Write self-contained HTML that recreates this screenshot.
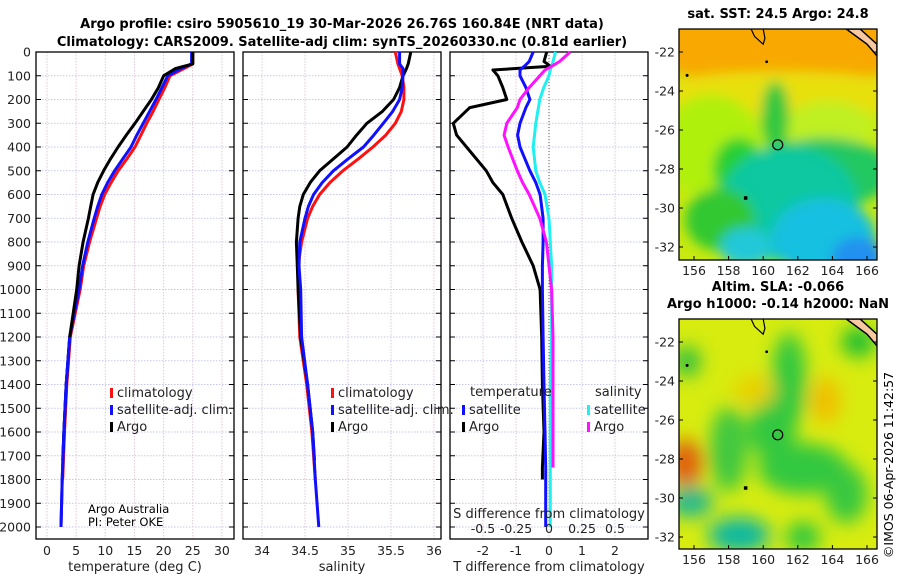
<!DOCTYPE html>
<html><head><meta charset="utf-8">
<style>
html,body{margin:0;padding:0;background:#fff;}
svg{display:block;font-family:"DejaVu Sans","Liberation Sans",sans-serif;}
</style></head>
<body>
<svg id="fig" width="900" height="580" viewBox="0 0 900 580" xmlns="http://www.w3.org/2000/svg">
<defs>
<filter id="blur1" x="-20%" y="-20%" width="140%" height="140%"><feGaussianBlur stdDeviation="9"/></filter>
<filter id="blur2" x="-20%" y="-20%" width="140%" height="140%"><feGaussianBlur stdDeviation="6"/></filter>
<clipPath id="clipTop"><rect x="679" y="29" width="198" height="231"/></clipPath>
<clipPath id="clipBot"><rect x="679" y="319" width="198" height="230"/></clipPath>
</defs>
<text x="342" y="28" text-anchor="middle" font-size="13" font-weight="bold">Argo profile: csiro 5905610_19 30-Mar-2026 26.76S 160.84E (NRT data)</text>
<text x="342" y="46" text-anchor="middle" font-size="13" font-weight="bold">Climatology: CARS2009. Satellite-adj clim: synTS_20260330.nc (0.81d earlier)</text>
<g id="plots"></g>
<g id="maps"></g>
<text transform="translate(893,465) rotate(-90)" text-anchor="middle" font-size="12.5">©IMOS 06-Apr-2026 11:42:57</text>
</svg>
<script>
// ---- data ----
const depths = [0,50,70,100,150,200,250,300,350,400,450,500,550,600,650,700,800,900,1000,1200,1400,1600,1800,2000];
const tempClim = [25,25,23.5,21.1,20.2,19.2,18.2,17.1,16.1,15.1,13.7,12.2,11.0,9.9,9.1,8.5,7.3,6.3,5.7,4.0,3.4,3.0,2.7,2.5];
const tempSat  = [24.8,24.8,23,20.7,19.7,18.7,17.6,16.5,15.4,14.4,13.0,11.6,10.4,9.4,8.7,8.1,7.0,6.1,5.5,3.9,3.3,2.9,2.6,2.4];
const tempArgo = [25,25,22,20,19.1,17.9,16.5,15.1,13.6,12.2,10.9,9.7,8.7,7.9,7.5,7.1,6.2,5.5,5.1,3.9,3.3,2.9,2.6,2.4];
const salClim = [35.55,35.58,35.6,35.63,35.65,35.65,35.62,35.55,35.44,35.29,35.12,34.94,34.79,34.67,34.59,34.53,34.46,34.42,34.42,34.44,34.52,34.58,34.62,34.65];
const salSat  = [35.6,35.6,35.64,35.64,35.63,35.6,35.52,35.41,35.3,35.18,35.0,34.83,34.7,34.6,34.54,34.5,34.44,34.43,34.45,34.46,34.53,34.59,34.62,34.66];
const salArgo = [35.73,35.7,35.68,35.64,35.6,35.53,35.4,35.22,35.1,34.99,34.83,34.67,34.56,34.48,34.44,34.42,34.4,34.41,34.42,34.45,34.53,34.59,34.62,34.65];
const dDepths = [0,40,60,76,100,150,200,234,300,350,400,500,550,600,700,800,900,1000,1200,1400,1600,1750,1800,2000];
const tDiffArgo = [-0.07,-0.15,0.05,-1.7,-1.55,-1.4,-1.28,-2.4,-2.9,-2.8,-2.5,-1.9,-1.7,-1.4,-1.13,-0.82,-0.48,-0.27,-0.22,-0.2,-0.15,-0.2,-0.2,null];
const tDiffSat  = [-0.48,-0.6,-0.75,-0.88,-0.88,-0.7,-0.58,-0.7,-0.88,-0.95,-0.88,-0.58,-0.4,-0.27,-0.18,-0.18,-0.2,-0.2,-0.18,-0.15,-0.12,-0.1,-0.1,-0.1];
const sDiffArgo = [0.16,0.08,0.02,-0.03,-0.07,-0.15,-0.22,-0.24,-0.32,-0.34,-0.31,-0.24,-0.2,-0.15,-0.07,-0.02,0.0,0.02,0.03,0.03,0.03,0.03,null,null];
const sDiffSat  = [0.05,0.03,0.02,0.01,0.0,-0.04,-0.07,-0.08,-0.1,-0.11,-0.12,-0.1,-0.07,-0.03,0.0,0.01,0.02,0.02,0.02,0.01,0.01,0.01,0.01,0.01];
const depthTicks = [0,100,200,300,400,500,600,700,800,900,1000,1100,1200,1300,1400,1500,1600,1700,1800,1900,2000];
const tempTicks = [0,5,10,15,20,25,30];
const salTicks = [34,34.5,35,35.5,36];
const tdTicks = [-2,-1,0,1,2];
const sdTicks = [-0.5,-0.25,0,0.25,0.5];
const sdTickLabels = ["-0.5","-0.25","0","0.25","0.5"];
const lonTicks = [156,158,160,162,164,166];
const latTicks = [-22,-24,-26,-28,-30,-32];
const argoLon = 160.84, argoLat = -26.76;

// ---- helpers ----
const NS="http://www.w3.org/2000/svg";
const plots=document.getElementById('plots');
const maps=document.getElementById('maps');
function mk(tag,attrs,parent){const e=document.createElementNS(NS,tag);for(const k in attrs)e.setAttribute(k,attrs[k]);(parent||plots).appendChild(e);return e;}
const yD = d => 52 + d*0.2375;
const xT = t => 47 + t*5.83;
const xS = s => 262 + (s-34)*86;
const xTD = v => 549 + v*33;
const xSD = v => 549 + v*132;
const PTOP=52, PBOT=539;

function panel(x0,x1,xTicks,xf,labels,name){
  const g=mk('g',{});
  
  
  depthTicks.forEach(d=>{const y=yD(d);mk('line',{x1:x0,x2:x1,y1:y,y2:y,stroke:'#c4c8ee','stroke-width':1,'stroke-dasharray':'1.5,1.5'},g);});
  xTicks.forEach(t=>{const x=xf(t);mk('line',{x1:x,x2:x,y1:PTOP,y2:PBOT,stroke:'#e0c8d8','stroke-width':1,'stroke-dasharray':'1.5,1.5'},g);});
  depthTicks.forEach(d=>{const y=yD(d);mk('line',{x1:x0,x2:x0+5,y1:y,y2:y,stroke:'#000'},g);mk('line',{x1:x1-5,x2:x1,y1:y,y2:y,stroke:'#000'},g);});
  mk('rect',{x:x0,y:PTOP,width:x1-x0,height:PBOT-PTOP,fill:'none',stroke:'#000','stroke-width':1.3},g);
  if(labels){xTicks.forEach((t,i)=>{const tx=mk('text',{x:xf(t),y:555,'text-anchor':'middle','font-size':12.5,fill:'#222'},g);tx.textContent=labels[i];});}
  return g;
}
function line(xs,ds,xf,color,w,name){
  let p='',started=false;
  xs.forEach((v,i)=>{if(v===null)return;p+=(started?'L':'M')+xf(v).toFixed(1)+','+yD(ds[i]).toFixed(1);started=true;});
  const e=mk('path',{d:p,fill:'none',stroke:color,'stroke-width':w,'stroke-linejoin':'round'});
  
  
  return e;
}
function txt(x,y,s,attrs,name,parent){const e=mk('text',Object.assign({x:x,y:y,'font-size':12.5,fill:'#222'},attrs||{}),parent);e.textContent=s;return e;}

// panels
panel(36,234,tempTicks,xT,tempTicks.map(String),'temperature-panel');
panel(243,441,salTicks,xS,salTicks.map(String),'salinity-panel');
panel(450,648,tdTicks,xTD,tdTicks.map(String),'difference-panel');
depthTicks.forEach(d=>{txt(31,yD(d)+4.5,String(d),{'text-anchor':'end'},'depth-tick-label');});

const n=depths.length;
// temperature
line(tempClim.slice(0,n-1),depths.slice(0,n-1),xT,'#ff1010',3,'temp-climatology-line');
line(tempSat,depths,xT,'#1010ff',3,'temp-satellite-line');
line(tempArgo.slice(0,n-2).concat([2.7]),depths.slice(0,n-2).concat([1720]),xT,'#000',3,'temp-argo-line');
line(tempSat.slice(n-5),depths.slice(n-5),xT,'#1010ff',3,'temp-satellite-deep');
// salinity
line(salClim.slice(0,n-1),depths.slice(0,n-1),xS,'#ff1010',3,'sal-climatology-line');
line(salArgo.slice(0,n-2).concat([34.61]),depths.slice(0,n-2).concat([1720]),xS,'#000',3,'sal-argo-line');
line(salSat,depths,xS,'#1010ff',3,'sal-satellite-line');
// difference
mk('line',{x1:549,x2:549,y1:PTOP,y2:yD(2000),stroke:'#555','stroke-width':1,'stroke-dasharray':'1,2'});
line(tDiffArgo,dDepths,xTD,'#000',3,'tdiff-argo-line');
line(tDiffSat,dDepths,xTD,'#1010ff',3,'tdiff-satellite-line');
line(sDiffSat,dDepths,xSD,'#20f0f0',3,'sdiff-satellite-line');
line(sDiffArgo,dDepths,xSD,'#ff10ff',3,'sdiff-argo-line');

// legends
function leg(x,y,color,label,name){const r=mk('rect',{x:x,y:y-9,width:3,height:10,fill:color});txt(x+7,y,label,{'font-size':13},name);}
[[36+74,'temp'],[243+88,'sal']].forEach(([lx,n])=>{
  leg(lx,397,'#ff1010','climatology',n+'-legend-climatology');
  leg(lx,414,'#1010ff','satellite-adj. clim.',n+'-legend-satellite');
  leg(lx,431,'#000','Argo',n+'-legend-argo');
});
txt(470,396,'temperature',{'font-size':13},'legend-title-temperature');
leg(462,414,'#1010ff','satellite','tdiff-legend-satellite');
leg(462,431,'#000','Argo','tdiff-legend-argo');
txt(595,396,'salinity',{'font-size':13},'legend-title-salinity');
leg(587,414,'#20f0f0','satellite','sdiff-legend-satellite');
leg(587,431,'#ff10ff','Argo','sdiff-legend-argo');
txt(88,513,'Argo Australia',{'font-size':11.5,fill:'#000'},'credit-argo-australia');
txt(88,526,'PI: Peter OKE',{'font-size':11.5,fill:'#000'},'credit-pi');
txt(549,518,'S difference from climatology',{'text-anchor':'middle','font-size':13},'sdiff-axis-title');
sdTicks.forEach((v,i)=>txt(xSD(v),533,sdTickLabels[i],{'text-anchor':'middle','font-size':12.5},'sdiff-tick-label'));
txt(135,571,'temperature (deg C)',{'text-anchor':'middle','font-size':13},'x-axis-title-temperature');
txt(342,571,'salinity',{'text-anchor':'middle','font-size':13},'x-axis-title-salinity');
txt(549,571,'T difference from climatology',{'text-anchor':'middle','font-size':13},'x-axis-title-tdiff');

// ---- maps ----
const MX0=679,MX1=877;
const xLon = l => 694 + (l-156)*17.3;
function mapFrame(top,bot,lat22,clip,blobs,base,title1,title2,name){
  const g=mk('g',{'clip-path':'url(#'+clip+')'},maps);
  
  
  const yL = la => lat22 + (-22-la)*19.5;
  mk('rect',{x:MX0,y:top,width:MX1-MX0,height:bot-top,fill:base},g);
  const bg=mk('g',{filter:blobs.f},g);
  blobs.list.forEach(b=>mk('ellipse',{cx:xLon(b[0]),cy:yL(b[1]),rx:b[2]*17.3,ry:b[3]*19.5,fill:b[4]},bg));
  // coast fragments
  mk('path',{d:`M${xLon(159.3)},${top} L${xLon(159.5)},${yL(-21.2)} L${xLon(160)},${yL(-21.6)} L${xLon(160.1)},${yL(-21.3)} L${xLon(160)},${top}`,fill:'none',stroke:'#000','stroke-width':1.2},g);
  mk('path',{d:`M${xLon(164.8)},${top} L${xLon(166)},${yL(-21.6)} L${MX1},${yL(-22.2)} L${MX1},${yL(-21.6)} L${xLon(165.6)},${top} Z`,fill:'#f8c8a0',stroke:'#000','stroke-width':1.5},g);
  mk('circle',{cx:xLon(155.6),cy:yL(-23.2),r:1.5,fill:'#000'},g);
  mk('rect',{x:xLon(159)-2,y:yL(-29.5)-2,width:3.5,height:3.5,fill:'#000'},g);
  mk('circle',{cx:xLon(160.2),cy:yL(-22.5),r:1.4,fill:'#000'},g);
  const c=mk('circle',{cx:xLon(argoLon),cy:yL(argoLat),r:5,fill:'none',stroke:'#000','stroke-width':1.2},maps);
  
  
  mk('rect',{x:MX0,y:top,width:MX1-MX0,height:bot-top,fill:'none',stroke:'#000','stroke-width':1.3},maps);
  lonTicks.forEach(l=>{const x=xLon(l);mk('line',{x1:x,x2:x,y1:bot,y2:bot-4,stroke:'#000'},maps);txt(x,bot+15,String(l),{'text-anchor':'middle','font-size':12.5},'lon-tick-label',maps);});
  latTicks.forEach(la=>{const y=yL(la);mk('line',{x1:MX0,x2:MX0+4,y1:y,y2:y,stroke:'#000'},maps);mk('line',{x1:MX1-4,x2:MX1,y1:y,y2:y,stroke:'#000'},maps);txt(MX0-4,y+4.5,String(la),{'text-anchor':'end','font-size':12.5},'lat-tick-label',maps);});
  txt(778,title1[1],title1[0],{'text-anchor':'middle','font-size':13,'font-weight':'bold',fill:'#000'},name+'-title',maps);
  if(title2) txt(778,title2[1],title2[0],{'text-anchor':'middle','font-size':13,'font-weight':'bold',fill:'#000'},name+'-subtitle',maps);
}
mapFrame(29,260,52,'clipTop',{f:'url(#blur2)',list:[
  [161,-21.3,8,2.6,'#f8a800'],
  [161,-24.2,8,1.2,'#e8e010'],
  [157,-26.8,3,2.6,'#b0f010'],
  [163.8,-25.8,2.5,1.3,'#c0f020'],
  [158.6,-28,1.5,1.6,'#28d030'],
  [160.7,-25.3,0.8,1.8,'#30c840'],
  [163.5,-28.2,4,1.8,'#20c860'],
  [161.5,-29.8,4,3,'#10c8a0'],
  [157.5,-30.6,2,1.6,'#30c830'],
  [163.5,-31.5,3,2,'#18c0e0'],
  [165.5,-32.5,1.5,1,'#2090f0'],
  [159,-32,1.5,1,'#20c8d8']
]},'#c8ea10',['sat. SST: 24.5 Argo: 24.8',18],null,'sst-map');
mapFrame(319,549,342,'clipBot',{f:'url(#blur1)',list:[
  [161.5,-24,1,2.5,'#30c840'],
  [160.5,-26.5,1.4,1.5,'#30c840'],
  [162.3,-28.5,2.6,1.3,'#30c840'],
  [164.8,-29.8,1.2,1.5,'#38c840'],
  [158,-27.5,1.1,2.2,'#40c840'],
  [158.6,-31.9,1.8,0.9,'#10b8a0'],
  [155.8,-30.2,1.3,0.8,'#20b890'],
  [155.6,-23,0.8,0.8,'#30c040'],
  [155.5,-28.2,1,1.2,'#e06010'],
  [163.6,-25,0.9,1.2,'#f0c000'],
  [159.5,-24.5,1.2,0.8,'#e8d000'],
  [162.3,-32,1,0.8,'#30c840'],
  [165.5,-22,1,0.8,'#20c030']
]},'#d8ec10',['Altim. SLA: -0.066',291],['Argo h1000: -0.14 h2000: NaN',308],'sla-map');
</script>
</body></html>
